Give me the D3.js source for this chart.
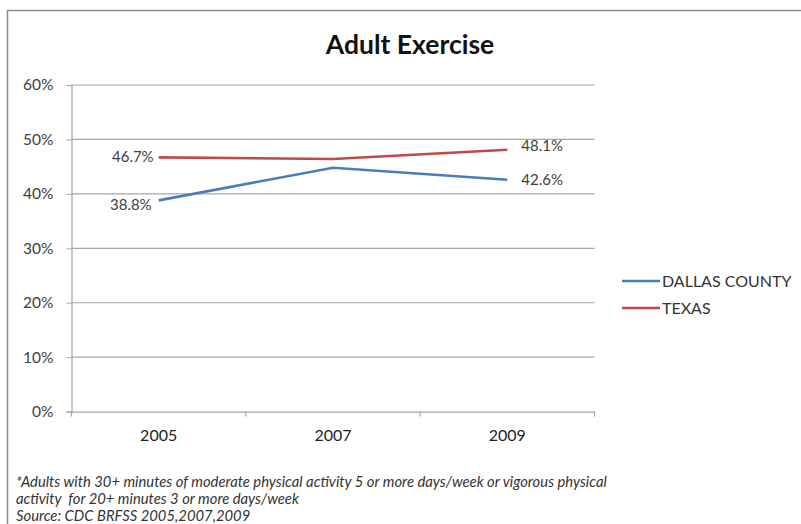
<!DOCTYPE html>
<html><head><meta charset="utf-8">
<script src="https://cdn.jsdelivr.net/npm/d3@7"></script>
<style>body{margin:0;background:#fff}svg{display:block}text{font-family:Lato,"Open Sans",sans-serif}</style>
</head><body>
<svg id="c" width="801" height="524"></svg>
<script>
const years = ["2005","2007","2009"];
const dallas = [38.8, 44.8, 42.6];
const texas = [46.7, 46.4, 48.1];
const seriesNames = ["DALLAS COUNTY","TEXAS"];
const yTicks = [0,10,20,30,40,50,60];
const footnotes = ["*Adults with 30+ minutes of moderate physical activity 5 or more days/week or vigorous physical",
  "activity  for 20+ minutes 3 or more days/week",
  "Source: CDC BRFSS 2005,2007,2009"];

const svg = d3.select("#c");
const colors = ["#4a7ebb","#be4b48"];
// border
svg.append("rect").attr("x",7.5).attr("y",10.5).attr("width",820).attr("height",600)
  .attr("fill","none").attr("stroke","#8c8c8c").attr("stroke-width",1.5);

const x = d3.scaleBand().domain(years).range([71.5,594.5]);
const y = d3.scaleLinear().domain([0,60]).range([411.6,85]);

svg.append("text").attr("x",410).attr("y",54).attr("text-anchor","middle")
  .attr("font-size",26.5).attr("font-weight","bold").attr("fill","#111").text("Adult Exercise");

// gridlines
svg.append("g").selectAll("line").data(yTicks.filter(d=>d>0)).join("line")
  .attr("x1",71.5).attr("x2",594.5).attr("y1",d=>y(d)).attr("y2",d=>y(d))
  .attr("stroke","#a6a6a6").attr("stroke-width",1.2);

const ya = svg.append("g").attr("transform","translate(71.5,0)")
  .call(d3.axisLeft(y).tickValues(yTicks).tickFormat(d=>d+"%").tickSize(5).tickPadding(13));
ya.select(".domain").attr("stroke","#a6a6a6").attr("stroke-width",1.2);
ya.selectAll(".tick line").attr("stroke","#a6a6a6");
ya.selectAll("text").attr("font-size",15.5).attr("fill","#404040").attr("font-family","Lato");

const xa = svg.append("g").attr("transform",`translate(0,${y(0)})`)
  .call(d3.axisBottom(x).tickSize(0).tickPadding(18));
xa.select(".domain").attr("stroke","#a6a6a6").attr("stroke-width",1.2);
xa.selectAll("text").attr("font-size",16).attr("fill","#222").attr("font-family","Lato");
// category boundary ticks
const bounds = [0,1,2,3].map(i=>x.range()[0]+i*x.step());
svg.append("g").selectAll("line").data(bounds).join("line")
  .attr("x1",d=>d).attr("x2",d=>d).attr("y1",y(0)).attr("y2",y(0)+5)
  .attr("stroke","#a6a6a6").attr("stroke-width",1.2);

const cx = d=>x(d)+x.bandwidth()/2;
const line = d3.line().x((d,i)=>cx(years[i])).y(d=>y(d));
[dallas,texas].forEach((s,k)=>{
  svg.append("path").datum(s).attr("d",line).attr("fill","none")
    .attr("stroke",colors[k]).attr("stroke-width",2.6);
});

// data labels
const lab = (txt,xx,yy,anchor)=>svg.append("text").attr("x",xx).attr("y",yy)
  .attr("text-anchor",anchor).attr("font-size",15).attr("fill","#404040").text(txt);
lab(texas[0].toFixed(1)+"%", cx(years[0])-5, y(texas[0])+5, "end");
lab(dallas[0].toFixed(1)+"%", cx(years[0])-7, y(dallas[0])+10, "end");
lab(texas[2].toFixed(1)+"%", cx(years[2])+14, y(texas[2])+1, "start");
lab(dallas[2].toFixed(1)+"%", cx(years[2])+14, y(dallas[2])+5, "start");

// legend
const lg = svg.append("g");
seriesNames.forEach((n,k)=>{
  const ly = 281 + k*27;
  lg.append("line").attr("x1",622).attr("x2",660).attr("y1",ly).attr("y2",ly)
    .attr("stroke",colors[k]).attr("stroke-width",2.6);
  lg.append("text").attr("x",662).attr("y",ly+5.5).attr("font-size",16).attr("fill","#333").text(n);
});

// footnotes
footnotes.forEach((t,i)=>{
  svg.append("text").attr("x",16).attr("y",487+i*17).attr("font-size",14.8)
    .attr("font-style","italic").attr("fill","#333").style("white-space","pre").text(t);
});
</script>
</body></html>
